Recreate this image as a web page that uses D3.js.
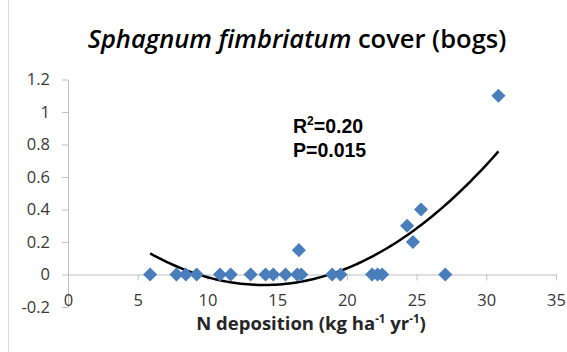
<!DOCTYPE html>
<html>
<head>
<meta charset="utf-8">
<script src="https://cdn.jsdelivr.net/npm/d3@7"></script>
<style>
  body { margin: 0; background: #fff; }
  svg { display: block; }
</style>
</head>
<body>
<div id="chart"></div>
<script>
var w = 567, h = 352;

// N deposition (kg/ha/yr) and S. fimbriatum cover
var nDep  = [5.89, 7.78, 8.45, 9.23, 10.9, 11.67, 13.1, 14.17, 14.72, 15.6, 16.44, 16.73, 16.56,
             18.95, 19.54, 21.81, 22.2, 22.53, 24.32, 24.74, 25.32, 27.06, 30.87];
var cover = [0, 0, 0, 0, 0, 0, 0, 0, 0, 0, 0, 0, 0.15,
             0, 0, 0, 0, 0, 0.3, 0.2, 0.4, 0, 1.1];
var xTicks = [0, 5, 10, 15, 20, 25, 30, 35];
var yTicks = [-0.2, 0, 0.2, 0.4, 0.6, 0.8, 1, 1.2];

var x = d3.scaleLinear().domain([0, 35]).range([68, 556]);
var y = d3.scaleLinear().domain([-0.2, 1.2]).range([307, 79.5]);

var svg = d3.select("#chart").append("svg")
    .attr("width", w)
    .attr("height", h);

// faint frame edge on the left
svg.append("line")
    .attr("x1", 8.5).attr("x2", 8.5)
    .attr("y1", 0).attr("y2", h)
    .style("stroke", "#d9d9d9");

// y axis
svg.append("g")
    .attr("transform", "translate(" + x(0) + ",0)")
    .call(d3.axisLeft(y).tickValues(yTicks).tickSize(6).tickSizeOuter(0).tickPadding(12)
      .tickFormat(function(d) { return String(d); }));

// x axis sits at y = 0
svg.append("g")
    .attr("transform", "translate(0," + y(0) + ")")
    .call(d3.axisBottom(x).tickValues(xTicks).tickSize(6).tickSizeOuter(0).tickPadding(14));

svg.selectAll(".domain, .tick line").style("stroke", "#bfbfbf");
svg.selectAll(".tick text")
    .style("font-family", "'Open Sans', sans-serif")
    .style("font-size", "16.5px")
    .style("fill", "#383838");

// quadratic trend line, least squares on the points
function quadFit(xs, ys) {
  var n = xs.length, s = [0, 0, 0, 0, 0], t = [0, 0, 0];
  for (var i = 0; i < n; i++) {
    var p = 1;
    for (var k = 0; k < 5; k++) { s[k] += p; if (k < 3) t[k] += p * ys[i]; p *= xs[i]; }
  }
  var A = [[s[0], s[1], s[2], t[0]], [s[1], s[2], s[3], t[1]], [s[2], s[3], s[4], t[2]]];
  for (var c = 0; c < 3; c++) {
    for (var r = c + 1; r < 3; r++) {
      var f = A[r][c] / A[c][c];
      for (var j = c; j < 4; j++) A[r][j] -= f * A[c][j];
    }
  }
  var b = [0, 0, 0];
  for (var r2 = 2; r2 >= 0; r2--) {
    var v = A[r2][3];
    for (var j2 = r2 + 1; j2 < 3; j2++) v -= A[r2][j2] * b[j2];
    b[r2] = v / A[r2][r2];
  }
  return b;
}
var coef = quadFit(nDep, cover);
var xMin = d3.min(nDep), xMax = d3.max(nDep);
var curve = d3.range(0, 101).map(function(i) {
  var xv = xMin + (xMax - xMin) * i / 100;
  return [xv, coef[0] + coef[1] * xv + coef[2] * xv * xv];
});

svg.append("path")
    .datum(curve)
    .attr("d", d3.line().x(function(d) { return x(d[0]); }).y(function(d) { return y(d[1]); }))
    .style("fill", "none")
    .style("stroke", "#000")
    .style("stroke-width", 2.5);

// diamond markers
svg.selectAll(".pt")
    .data(nDep)
    .enter().append("path")
    .attr("class", "pt")
    .attr("d", d3.symbol().type(d3.symbolSquare).size(100))
    .attr("transform", function(d, i) { return "translate(" + x(d) + "," + y(cover[i]) + ") rotate(45)"; })
    .style("fill", "#4a7ebb");

// title
var title = svg.append("text")
    .attr("x", 297).attr("y", 48)
    .attr("text-anchor", "middle")
    .style("font-family", "'Open Sans', sans-serif")
    .style("font-size", "25.5px")
    .style("font-weight", 600)
    .style("fill", "#000");
title.append("tspan").style("font-style", "italic").text("Sphagnum fimbriatum");
title.append("tspan").text(" cover (bogs)");

// stats
var stats = svg.append("g")
    .style("font-family", "'Liberation Sans', Arial, sans-serif")
    .style("font-size", "19.5px")
    .style("font-weight", "bold");
var r2 = stats.append("text").attr("x", 293).attr("y", 133);
r2.append("tspan").text("R");
r2.append("tspan").attr("dy", -8).style("font-size", "12px").text("2");
r2.append("tspan").attr("dy", 8).text("=0.20");
stats.append("text").attr("x", 293).attr("y", 157).text("P=0.015");

// x axis title
var xt = svg.append("text")
    .attr("x", 311).attr("y", 330)
    .attr("text-anchor", "middle")
    .style("font-family", "'Open Sans', sans-serif")
    .style("font-size", "18.5px")
    .style("font-weight", "bold")
    .style("fill", "#262626");
xt.append("tspan").text("N deposition (kg ha");
xt.append("tspan").attr("dy", -7).style("font-size", "11.5px").text("-1");
xt.append("tspan").attr("dy", 7).text(" yr");
xt.append("tspan").attr("dy", -7).style("font-size", "11.5px").text("-1");
xt.append("tspan").attr("dy", 7).text(")");
</script>
</body>
</html>
